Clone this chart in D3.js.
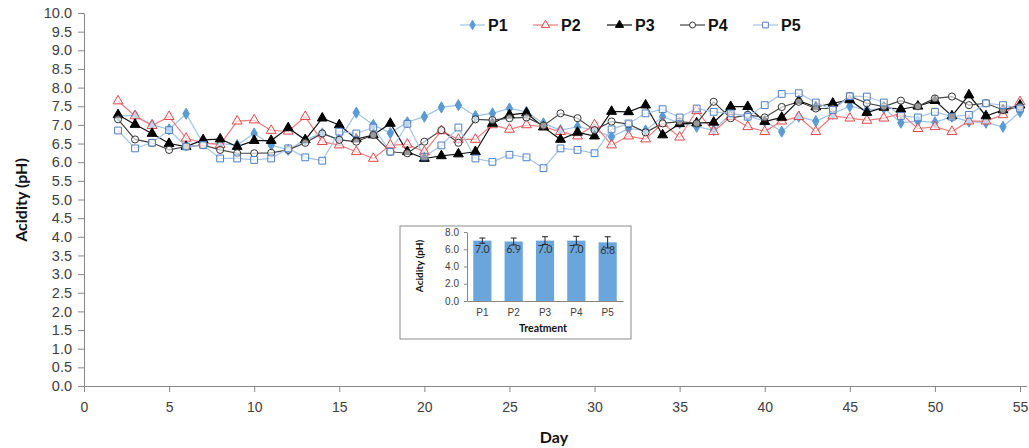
<!DOCTYPE html>
<html>
<head>
<meta charset="utf-8">
<script src="https://cdn.jsdelivr.net/npm/d3@7"></script>
<style>
  body { margin: 0; background: #fff; }
  svg { display: block; font-family: Lato, "Open Sans", sans-serif; }
  .axis path, .axis line { stroke: #868686; }
  .axis text { fill: #404040; }
</style>
</head>
<body>
<div id="chart"></div>
<script>
const days = [2, 3, 4, 5, 6, 7, 8, 9, 10, 11, 12, 13, 14, 15, 16, 17, 18, 19, 20, 21, 22, 23, 24, 25, 26, 27, 28,
  29, 30, 31, 32, 33, 34, 35, 36, 37, 38, 39, 40, 41, 42, 43, 44, 45, 46, 47, 48, 49, 50, 51, 52, 53, 54, 55];

const p1 = [7.25, 7.25, 7.0, 6.88, 7.3, 6.5, 6.5, 6.46, 6.77, 6.46, 6.33, 6.6, 6.77, 6.6, 7.33, 7.0, 6.78, 7.07,
  7.22, 7.47, 7.53, 7.24, 7.31, 7.44, 7.35, 7.04, 6.86, 6.95, 6.86, 6.68, 6.9, 6.85, 7.22, 7.05, 6.95, 6.86,
  7.3, 7.25, 7.1, 6.82, 7.22, 7.1, 7.3, 7.5, 7.4, 7.45, 7.06, 7.1, 7.07, 7.22, 7.09, 7.06, 6.95, 7.35];
const p2 = [7.64, 7.24, 6.98, 7.22, 6.64, 6.52, 6.47, 7.1, 7.13, 6.85, 6.83, 7.22, 6.55, 6.46, 6.28, 6.1, 6.46, 6.48,
  6.28, 6.84, 6.61, 6.61, 7.0, 6.88, 7.0, 6.95, 6.82, 6.7, 7.0, 6.46, 6.7, 6.62, 7.04, 6.67, 7.38, 6.82,
  7.22, 6.95, 6.82, 7.1, 7.22, 6.82, 7.24, 7.18, 7.12, 7.18, 7.31, 6.9, 6.95, 6.82, 7.1, 7.1, 7.27, 7.62];
const p3 = [7.27, 7.01, 6.77, 6.5, 6.42, 6.6, 6.62, 6.42, 6.58, 6.58, 6.92, 6.6, 7.18, 7.0, 6.62, 6.73, 7.04, 6.28,
  6.1, 6.17, 6.22, 6.28, 7.04, 7.27, 7.32, 6.94, 6.61, 6.8, 6.7, 7.36, 7.35, 7.53, 6.73, 7.03, 7.05, 7.07,
  7.49, 7.49, 7.09, 7.2, 7.65, 7.48, 7.58, 7.67, 7.33, 7.47, 7.42, 7.5, 7.65, 7.24, 7.8, 7.24, 7.4, 7.53];
const p4 = [7.15, 6.61, 6.52, 6.33, 6.42, 6.46, 6.33, 6.24, 6.24, 6.25, 6.33, 6.52, 6.77, 6.6, 6.55, 6.73, 6.28, 6.24,
  6.55, 6.86, 6.52, 7.15, 7.13, 7.18, 7.2, 6.98, 7.31, 7.18, 6.86, 7.09, 7.02, 6.8, 7.04, 7.09, 7.04, 7.62,
  7.18, 7.27, 7.2, 7.48, 7.62, 7.44, 7.44, 7.77, 7.58, 7.49, 7.65, 7.5, 7.71, 7.76, 7.53, 7.58, 7.4, 7.49];
const p5 = [6.85, 6.37, 6.52, 6.86, 6.42, 6.46, 6.1, 6.1, 6.06, 6.1, 6.37, 6.13, 6.04, 6.82, 6.77, 6.93, 6.28, 7.03,
  6.15, 6.45, 6.93, 6.1, 6.01, 6.2, 6.13, 5.84, 6.37, 6.33, 6.24, 6.88, 7.04, 7.31, 7.42, 7.2, 7.44, 7.35,
  7.31, 7.22, 7.53, 7.83, 7.85, 7.6, 7.4, 7.77, 7.76, 7.6, 7.24, 7.2, 7.35, 7.22, 7.27, 7.58, 7.53, 7.44];

const yTicks = d3.range(0, 10.01, 0.5);
const xTicks = [0, 5, 10, 15, 20, 25, 30, 35, 40, 45, 50, 55];

// inset: mean pH per treatment
const treatments = ["P1", "P2", "P3", "P4", "P5"];
const means = [7.0, 6.9, 7.0, 7.0, 6.8];
const errs = [0.3, 0.4, 0.45, 0.5, 0.65];
const insetTicks = [0, 2, 4, 6, 8];

const series = [
  { name: "P1", values: p1, line: "#9DC3E6", stroke: "#5B9BD5", fill: "#5B9BD5", symbol: d3.symbolDiamond, size: 36 },
  { name: "P2", values: p2, line: "#EC7C7E", stroke: "#E4464B", fill: "#fff", symbol: d3.symbolTriangle, size: 42 },
  { name: "P3", values: p3, line: "#111", stroke: "#000", fill: "#000", symbol: d3.symbolTriangle, size: 42 },
  { name: "P4", values: p4, line: "#444", stroke: "#333", fill: "#fff", symbol: d3.symbolCircle, size: 40 },
  { name: "P5", values: p5, line: "#A7C3E8", stroke: "#4F7FC0", fill: "#fff", symbol: d3.symbolSquare, size: 46 }
];

const W = 1029, H = 448;
const svg = d3.select("#chart").append("svg").attr("width", W).attr("height", H);

const x = d3.scaleLinear().domain([0, 55]).range([84, 1020]);
const y = d3.scaleLinear().domain([0, 10]).range([386, 13]);

svg.append("g")
  .attr("class", "axis")
  .attr("transform", "translate(84,0)")
  .call(d3.axisLeft(y).tickValues(yTicks).tickFormat(d3.format(".1f")).tickSize(6).tickSizeOuter(0).tickPadding(6))
  .call(g => g.selectAll("text").attr("font-size", 14.5));

svg.append("g")
  .attr("class", "axis")
  .attr("transform", "translate(0,386)")
  .call(d3.axisBottom(x).tickValues(xTicks).tickSize(6).tickSizeOuter(0).tickPadding(10))
  .call(g => g.select(".domain").attr("d", "M84,0.5H1027"))
  .call(g => g.selectAll("text").attr("font-size", 14));

svg.append("text")
  .attr("transform", "translate(27,200) rotate(-90)")
  .attr("text-anchor", "middle")
  .attr("font-size", 16).attr("font-weight", "bold").attr("fill", "#111")
  .text("Acidity (pH)");

svg.append("text")
  .attr("x", 554).attr("y", 443)
  .attr("text-anchor", "middle")
  .attr("font-size", 16).attr("font-weight", "bold").attr("fill", "#111")
  .text("Day");

const line = d3.line().x((d, i) => x(days[i])).y(d => y(d));

series.forEach(s => {
  svg.append("path")
    .datum(s.values)
    .attr("fill", "none")
    .attr("stroke", s.line)
    .attr("stroke-width", 1.2)
    .attr("d", line);
});

series.forEach(s => {
  const sym = d3.symbol().type(s.symbol).size(s.size);
  svg.append("g").selectAll("path")
    .data(s.values)
    .join("path")
    .attr("transform", (d, i) => `translate(${x(days[i])},${y(d)})`)
    .attr("d", sym)
    .attr("fill", s.fill)
    .attr("fill-opacity", s.fill === "#fff" ? 0.6 : 1)
    .attr("stroke", s.stroke)
    .attr("stroke-width", 1);
});

// legend
const legendX = [460, 533, 607, 680, 753];
series.forEach((s, i) => {
  const g = svg.append("g").attr("transform", `translate(${legendX[i]},25)`);
  g.append("line").attr("x1", 0).attr("x2", 25).attr("stroke", s.line).attr("stroke-width", 1.2);
  g.append("path").attr("transform", "translate(12.5,0)")
    .attr("d", d3.symbol().type(s.symbol).size(s.size * 0.7))
    .attr("fill", s.fill).attr("stroke", s.stroke);
  g.append("text").attr("x", 28).attr("y", 6)
    .attr("font-family", "Liberation Sans, Arial, sans-serif")
    .attr("font-size", 16).attr("font-weight", "bold").attr("fill", "#111")
    .text(s.name);
});

// inset bar chart
const inset = svg.append("g");
inset.append("rect")
  .attr("x", 400).attr("y", 226).attr("width", 231).attr("height", 113)
  .attr("fill", "#fff").attr("stroke", "#8c8c8c").attr("stroke-width", 1);

const bx = d3.scaleBand().domain(treatments).range([467, 623]).paddingInner(0.42).paddingOuter(0.2);
const by = d3.scaleLinear().domain([0, 8]).range([301, 232]);

inset.append("g")
  .attr("class", "axis")
  .attr("transform", "translate(467,0)")
  .call(d3.axisLeft(by).tickValues(insetTicks).tickFormat(d3.format(".1f")).tickSize(3).tickSizeOuter(0).tickPadding(5))
  .call(g => g.selectAll("text").attr("font-size", 10));

inset.append("g")
  .attr("class", "axis")
  .attr("transform", "translate(0,301)")
  .call(d3.axisBottom(bx).tickSize(0).tickSizeOuter(0).tickPadding(8))
  .call(g => g.selectAll("text").attr("font-size", 10));

inset.selectAll(".bar")
  .data(means)
  .join("rect")
  .attr("x", (d, i) => bx(treatments[i]))
  .attr("y", d => by(d))
  .attr("width", bx.bandwidth())
  .attr("height", d => by(0) - by(d))
  .attr("fill", "#6AA5DC");

inset.selectAll(".err")
  .data(means)
  .join("path")
  .attr("d", (d, i) => {
    const cx = bx(treatments[i]) + bx.bandwidth() / 2;
    const t = by(d + errs[i]), b = by(d - errs[i]);
    return `M${cx - 3},${t}H${cx + 3}M${cx},${t}V${b}M${cx - 3},${b}H${cx + 3}`;
  })
  .attr("stroke", "#222").attr("stroke-width", 1).attr("fill", "none");

inset.selectAll(".lab")
  .data(means)
  .join("text")
  .attr("x", (d, i) => bx(treatments[i]) + bx.bandwidth() / 2)
  .attr("y", d => by(d) + 12)
  .attr("text-anchor", "middle")
  .attr("font-size", 10.5).attr("fill", "#333")
  .text(d => d.toFixed(1));

inset.append("text")
  .attr("transform", "translate(423,266) rotate(-90)")
  .attr("text-anchor", "middle")
  .attr("font-size", 10).attr("font-weight", "bold").attr("fill", "#111")
  .text("Acidity (pH)");

inset.append("text")
  .attr("x", 543).attr("y", 332)
  .attr("text-anchor", "middle")
  .attr("font-size", 10.5).attr("font-weight", "bold").attr("fill", "#111")
  .text("Treatment");
</script>
</body>
</html>
